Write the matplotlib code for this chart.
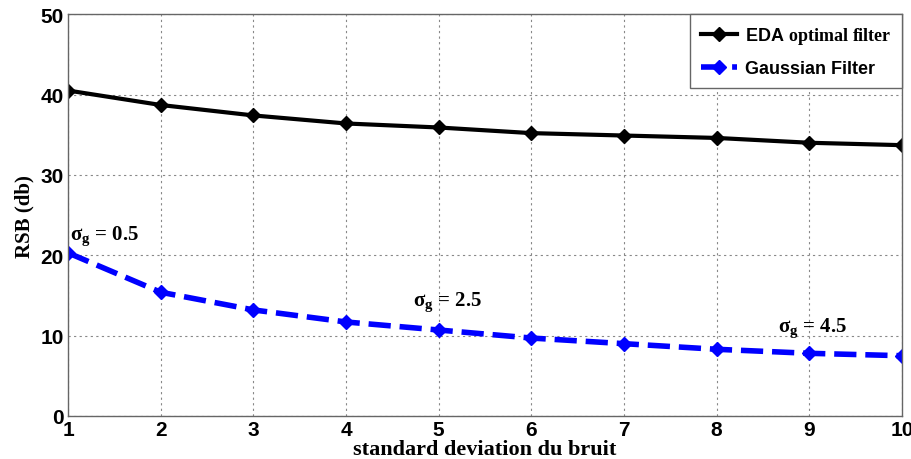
import matplotlib
matplotlib.use("Agg")
import matplotlib.pyplot as plt

# data
noise_std = [1, 2, 3, 4, 5, 6, 7, 8, 9, 10]
rsb_eda = [40.5, 38.7, 37.4, 36.4, 35.9, 35.2, 34.9, 34.6, 34.0, 33.7]
rsb_gauss = [20.3, 15.4, 13.2, 11.7, 10.7, 9.7, 9.0, 8.3, 7.8, 7.5]

# sigma_g annotations (x, y, label)
sigma_x = [1.02, 4.72, 8.66]
sigma_y = [21.0, 12.8, 9.6]
sigma_txt = ["0.5", "2.5", "4.5"]

plt.rcParams['mathtext.fontset'] = 'custom'
plt.rcParams['mathtext.rm'] = 'Liberation Serif:bold'
plt.rcParams['mathtext.it'] = 'Liberation Serif:bold'
plt.rcParams['mathtext.bf'] = 'Liberation Serif:bold'

tick_font = ['Liberation Sans Narrow', 'Liberation Sans', 'DejaVu Sans']
serif_font = ['Liberation Serif', 'DejaVu Serif']

fig = plt.figure(figsize=(9.12, 4.6), dpi=100)
ax = fig.add_axes([0.0746, 0.0935, 0.9144, 0.8735])

ax.plot(noise_std, rsb_eda, color='black', lw=3, marker='D', ms=7,
        label=r'EDA $\mathrm{optimal\ filter}$')
ax.plot(noise_std, rsb_gauss, color='#0000ff', lw=4, ls=(0, (4, 1.6)), marker='D', ms=7,
        label='Gaussian Filter')

for x, y, t in zip(sigma_x, sigma_y, sigma_txt):
    ax.text(x, y, r'$\mathrm{\sigma_g}$ = ' + t, family=serif_font,
            fontweight='bold', fontsize=15, ha='left', va='bottom')

ax.set_xlim(1, 10)
ax.set_ylim(0, 50)
ax.set_xticks(noise_std)
ax.set_yticks([0, 10, 20, 30, 40, 50])
ax.grid(True, ls=(0, (2, 3)), color='#888888', lw=0.8)
ax.tick_params(length=0, pad=3)
for lab in ax.get_xticklabels() + ax.get_yticklabels():
    lab.set_family(tick_font)
    lab.set_fontweight('bold')
    lab.set_fontsize(15)
for s in ax.spines.values():
    s.set_color('#666666')
    s.set_linewidth(1)

ax.set_xlabel('standard deviation du bruit', family=serif_font, fontweight='bold',
              fontsize=16, labelpad=0)
ax.set_ylabel('RSB (db)', family=serif_font, fontweight='bold', fontsize=15, labelpad=4)

leg = ax.legend(loc='upper right', prop={'family': ['Liberation Sans', 'DejaVu Sans'],
                                         'weight': 'bold', 'size': 13},
                fancybox=False, framealpha=1, edgecolor='#666666',
                handlelength=2.0, handletextpad=0.4, borderpad=0.6,
                labelspacing=0.8, borderaxespad=0)
leg.get_frame().set_linewidth(1)

fig.savefig('out.png', dpi=100)
